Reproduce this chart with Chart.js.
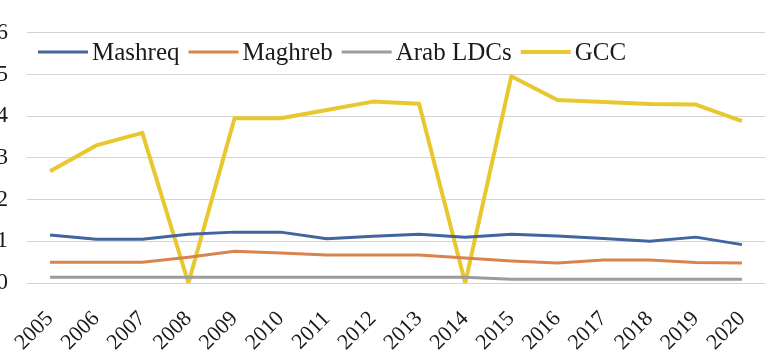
<!DOCTYPE html>
<html>
<head>
<meta charset="utf-8">
<script src="https://cdn.jsdelivr.net/npm/chart.js@4/dist/chart.umd.min.js"></script>
<style>
  html, body { margin: 0; padding: 0; background: #fff; }
  #wrap { position: relative; width: 769px; height: 357px; overflow: hidden; background: #fff; }
  #c { position: absolute; left: -10px; top: 0; }
</style>
</head>
<body>
<div id="wrap"><canvas id="c" width="779" height="357"></canvas></div>
<script>
const years = ['2005','2006','2007','2008','2009','2010','2011','2012','2013','2014','2015','2016','2017','2018','2019','2020'];
const mashreq  = [1.15, 1.05, 1.05, 1.17, 1.22, 1.22, 1.06, 1.12, 1.17, 1.10, 1.17, 1.13, 1.07, 1.00, 1.10, 0.92];
const maghreb  = [0.50, 0.50, 0.50, 0.62, 0.76, 0.72, 0.67, 0.67, 0.67, 0.60, 0.53, 0.48, 0.55, 0.55, 0.49, 0.48];
const arabLDCs = [0.14, 0.14, 0.14, 0.14, 0.14, 0.14, 0.14, 0.14, 0.14, 0.14, 0.09, 0.09, 0.09, 0.09, 0.09, 0.09];
const gcc      = [2.68, 3.30, 3.60, 0.00, 3.95, 3.95, 4.15, 4.35, 4.30, 0.00, 4.96, 4.39, 4.34, 4.29, 4.28, 3.88];
const yTicks   = [0, 1, 2, 3, 4, 5, 6];

const FONT = '"Liberation Serif", "Times New Roman", serif';

// Legend drawn inside the plot area, in one row along the top
const inlineLegend = {
  id: 'inlineLegend',
  afterDatasetsDraw(chart) {
    const ctx = chart.ctx;
    ctx.save();
    ctx.font = '25px ' + FONT;
    ctx.textBaseline = 'middle';
    ctx.textAlign = 'left';
    let x = 48;
    const y = 52;
    chart.data.datasets.forEach(ds => {
      ctx.strokeStyle = ds.borderColor;
      ctx.lineWidth = ds.borderWidth;
      ctx.beginPath();
      ctx.moveTo(x, y);
      ctx.lineTo(x + 50, y);
      ctx.stroke();
      x += 54;
      ctx.fillStyle = '#1a1a1a';
      ctx.fillText(ds.label, x, y + 1);
      x += ctx.measureText(ds.label).width + 9;
    });
    ctx.restore();
  }
};

new Chart(document.getElementById('c'), {
  type: 'line',
  data: {
    labels: years,
    datasets: [
      { label: 'Mashreq',   data: mashreq,  borderColor: '#42649f', borderWidth: 3 },
      { label: 'Maghreb',   data: maghreb,  borderColor: '#d9834f', borderWidth: 3 },
      { label: 'Arab LDCs', data: arabLDCs, borderColor: '#9c9c9c', borderWidth: 3 },
      { label: 'GCC',       data: gcc,      borderColor: '#e9c72e', borderWidth: 4 }
    ]
  },
  options: {
    responsive: false,
    animation: false,
    devicePixelRatio: 1,
    layout: { padding: { top: 23, right: 4, bottom: 0, left: 0 } },
    elements: {
      point: { radius: 0, hoverRadius: 0 },
      line: { tension: 0, borderJoinStyle: 'round', borderCapStyle: 'butt' }
    },
    plugins: {
      legend: { display: false },
      tooltip: { enabled: false }
    },
    scales: {
      x: {
        offset: true,
        grid: { display: false },
        border: { display: false },
        ticks: {
          color: '#1a1a1a',
          font: { family: FONT, size: 22 },
          minRotation: 45,
          maxRotation: 45,
          padding: 15,
          autoSkip: false
        },
        afterFit(scale) {
          scale.height = 74;
          scale.paddingLeft = 0;
          scale.paddingRight = 0;
        }
      },
      y: {
        min: 0,
        max: 6,
        afterBuildTicks(scale) { scale.ticks = yTicks.map(v => ({ value: v })); },
        grid: { color: '#d4d4d4', lineWidth: 1, drawTicks: false },
        border: { display: false },
        ticks: {
          color: '#1a1a1a',
          font: { family: FONT, size: 23 },
          padding: 19
        },
        afterFit(scale) { scale.width = 37; }
      }
    }
  },
  plugins: [inlineLegend]
});
</script>
</body>
</html>
